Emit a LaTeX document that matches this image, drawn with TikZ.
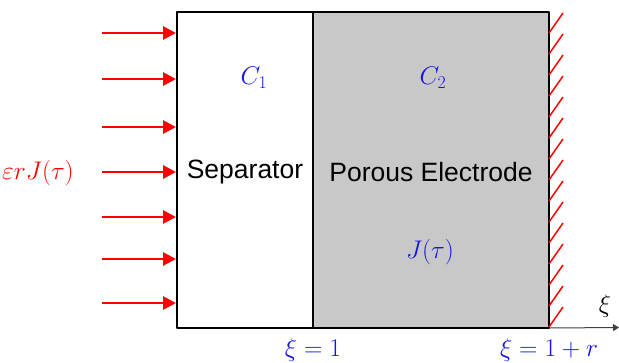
\RequirePackage{fix-cm}
\documentclass[tikz,border=0pt]{standalone}
\usepackage{fontspec}
\setsansfont{Liberation Sans}
\usetikzlibrary{arrows.meta}
\definecolor{elgray}{RGB}{200,200,200}
\definecolor{mblue}{RGB}{20,20,240}
\definecolor{mred}{RGB}{255,0,0}
\begin{document}
\begin{tikzpicture}[x=1pt,y=-1pt,
  flux/.style={draw=mred,line width=2.8pt,-{Triangle[length=13pt,width=13pt]}},
  hatch/.style={draw=mred,line width=1.5pt},
  wall/.style={draw=black,line width=2.2pt},
  lbl/.style={font=\sffamily\fontsize{26.5}{30}\selectfont,inner sep=0pt},
  mlbl/.style={text=mblue,font=\fontsize{25.5}{28}\selectfont,inner sep=0pt}]
\useasboundingbox (0,0) rectangle (619,362);
% regions
\fill[elgray] (313,12) rectangle (549,328);
\coordinate (tl) at (177,12);
\coordinate (br) at (549,328);
\coordinate (mt) at (313,12);
\coordinate (mb) at (313,328);
% axis
\coordinate (ax) at (619,327.5);
\draw[draw=black!75,line width=1pt,-{Triangle[length=6pt,width=7pt]}] (br) -- (ax);
\draw[wall,line join=round] (tl) rectangle (br);
\draw[wall] (mt) -- (mb);
% hatches
\foreach \y in {33,54,75,96,117,138,159,180,201,222,243,264,285,306,327}{
  \draw[hatch] (549,\y) -- (563,\y-20);
}
% flux arrows
\foreach \y [count=\i] in {33,79,127,172,217,259,303}{
  \coordinate (s\i) at (102,\y);
  \coordinate (e\i) at (176,\y);
  \draw[flux] (s\i) -- (e\i);
}
% labels
\node[lbl] (sep) at (245,172) {Separator};
\node[lbl] (por) at (431,172) {Porous Electrode};
\node[mlbl] (c1) at (254,78) {$C_1$};
\node[mlbl] (c2) at (433,78) {$C_2$};
\node[mlbl] (j) at (430,252) {$J(\tau)$};
\node[mlbl] (x1) at (313,350) {$\xi=1$};
\node[mlbl] (x2) at (549,350) {$\xi=1+r$};
\node[inner sep=0pt,font=\fontsize{25.5}{28}\selectfont] (xi) at (605,306) {$\xi$};
\node[inner sep=0pt,text=mred,font=\fontsize{25.5}{28}\selectfont] (flux) at (38,173) {$\varepsilon rJ(\tau)$};
\end{tikzpicture}
\end{document}
